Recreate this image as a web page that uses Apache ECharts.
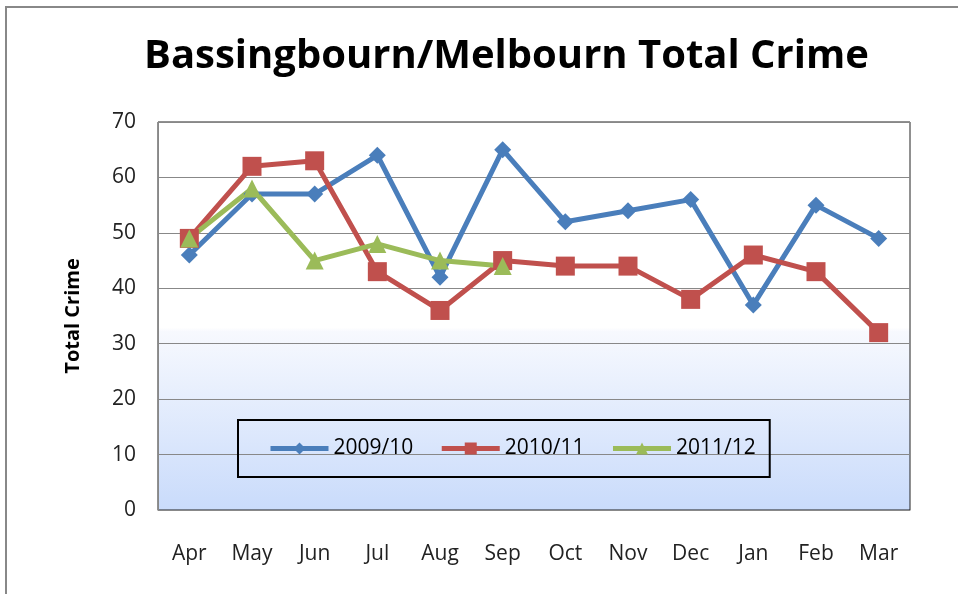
<!DOCTYPE html>
<html>
<head>
<meta charset="utf-8">
<script src="https://cdn.jsdelivr.net/npm/echarts@6/dist/echarts.min.js"></script>
<style>
  html, body { margin: 0; padding: 0; background: #fff; }
  #chart { width: 958px; height: 594px; }
</style>
</head>
<body>
<div id="chart"></div>
<script>
const months = ['Apr', 'May', 'Jun', 'Jul', 'Aug', 'Sep', 'Oct', 'Nov', 'Dec', 'Jan', 'Feb', 'Mar']
const crime0910 = [46, 57, 57, 64, 42, 65, 52, 54, 56, 37, 55, 49]
const crime1011 = [49, 62, 63, 43, 36, 45, 44, 44, 38, 46, 43, 32]
const crime1112 = [49, 58, 45, 48, 45, 44]

const font = 'Open Sans'
const chart = echarts.init(document.getElementById('chart'))

function line(name, data, color, symbol, size) {
    return {
        name: name,
        type: 'line',
        data: data,
        symbol: symbol,
        symbolSize: size,
        itemStyle: { color: color },
        lineStyle: { color: color, width: 5 },
        z: 3
    }
}

chart.setOption({
    animation: false,
    title: {
        text: 'Bassingbourn/Melbourn Total Crime',
        left: 144,
        top: 37,
        padding: 0,
        textStyle: { fontFamily: font, fontSize: 40, fontWeight: 'bold', color: '#000' }
    },
    graphic: [{
        type: 'rect',
        shape: { x: 6, y: 7, width: 1000, height: 700 },
        style: { fill: null, stroke: '#888', lineWidth: 2 },
        silent: true
    }],
    grid: {
        left: 158, right: 48, top: 122, bottom: 84,
        show: true,
        borderColor: '#222',
        borderWidth: 1,
        backgroundColor: {
            type: 'linear', x: 0, y: 0, x2: 0, y2: 1,
            colorStops: [
                { offset: 0, color: '#ffffff' },
                { offset: 0.53, color: '#ffffff' },
                { offset: 0.54, color: '#f7f9fe' },
                { offset: 1, color: '#c9dbfb' }
            ]
        }
    },
    legend: {
        left: 238,
        top: 420,
        padding: [18, 14, 18, 30],
        itemGap: 26,
        itemWidth: 58,
        itemHeight: 15,
        borderColor: '#000',
        borderWidth: 2,
        lineStyle: { width: 5 },
        textStyle: { fontFamily: font, fontSize: 21, color: '#000' },
        data: ['2009/10', '2010/11', '2011/12']
    },
    xAxis: {
        type: 'category',
        data: months,
        axisLine: { lineStyle: { color: '#888' } },
        axisTick: { show: false },
        axisLabel: { fontFamily: font, fontSize: 21, color: '#222', margin: 34 }
    },
    yAxis: {
        type: 'value',
        min: 0, max: 70, interval: 10,
        name: 'Total Crime',
        nameLocation: 'middle',
        nameGap: 75,
        nameTextStyle: { fontFamily: font, fontSize: 20, fontWeight: 'bold', color: '#000' },
        axisLine: { show: true, lineStyle: { color: '#888' } },
        axisTick: { show: false },
        splitLine: { lineStyle: { color: '#888', width: 1 } },
        axisLabel: { fontFamily: font, fontSize: 21, color: '#222', margin: 22 }
    },
    series: [
        line('2009/10', crime0910, '#4a7ebb', 'diamond', 17),
        line('2010/11', crime1011, '#c0504d', 'rect', 19),
        line('2011/12', crime1112, '#9bbb59', 'triangle', 18)
    ]
})
</script>
</body>
</html>
